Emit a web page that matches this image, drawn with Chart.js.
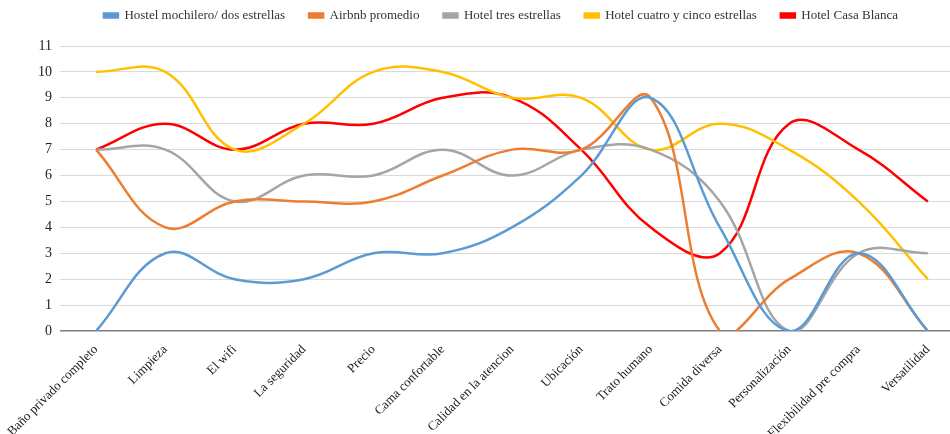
<!DOCTYPE html>
<html>
<head>
<meta charset="utf-8">
<script src="https://cdn.jsdelivr.net/npm/chart.js@4/dist/chart.umd.min.js"></script>
<style>
  html, body { margin: 0; padding: 0; background: #fff; }
  #wrap { width: 950px; height: 434px; }
</style>
</head>
<body>
<div id="wrap"><canvas id="myChart" width="950" height="434"></canvas></div>
<script>
// categorias del eje x
var categorias = ['Baño privado completo', 'Limpieza', 'El wifi', 'La seguridad', 'Precio',
    'Cama confortable', 'Calidad en la atencion', 'Ubicación', 'Trato humano',
    'Comida diversa', 'Personalización', 'Flexibilidad pre compra', 'Versatilidad']

var hostel = [0, 3, 2, 2, 3, 3, 4, 6, 9, 4, 0, 3, 0]
var airbnb = [7, 4, 5, 5, 5, 6, 7, 7, 9, 0, 2, 3, 0]
var hotelTres = [7, 7, 5, 6, 6, 7, 6, 7, 7, 5, 0, 3, 3]
var hotelCuatro = [10, 10, 7, 8, 10, 10, 9, 9, 7, 8, 7, 5, 2]
var casaBlanca = [7, 8, 7, 8, 8, 9, 9, 7, 4, 3, 8, 7, 5]

var yTicks = [0, 1, 2, 3, 4, 5, 6, 7, 8, 9, 10, 11]

function puntos(arr) {
    return arr.map(function (v, i) { return { x: i, y: v } })
}

function serie(label, arr, color) {
    return {
        label: label,
        data: puntos(arr),
        borderColor: color,
        backgroundColor: color,
        borderWidth: 2.5,
        pointRadius: 0,
        tension: 0.4,
        fill: false,
    }
}

// mueve la leyenda como en el original (mas arriba y centrada sobre el grafico)
var ajusteLeyenda = {
    id: 'ajusteLeyenda',
    beforeLayout: function (chart) {
        var lg = chart.legend
        if (lg && !lg._ajustado) {
            var fit = lg.fit
            lg.fit = function () { fit.call(this); this.height = 46 }
            lg._ajustado = true
        }
    },
    afterLayout: function (chart) {
        var lg = chart.legend
        lg.left = 52
        lg.right = 950
        lg.top = -15
    }
}

var ctx = document.getElementById('myChart').getContext('2d')
var myChart = new Chart(ctx, {
    type: 'line',
    data: {
        datasets: [
            serie('Hostel mochilero/ dos estrellas', hostel, '#5b9bd5'),
            serie('Airbnb promedio', airbnb, '#ed7d31'),
            serie('Hotel tres estrellas', hotelTres, '#a5a5a5'),
            serie('Hotel cuatro y cinco estrellas', hotelCuatro, '#ffc000'),
            serie('Hotel Casa Blanca', casaBlanca, '#ff0000'),
        ]
    },
    plugins: [ajusteLeyenda],
    options: {
        responsive: false,
        animation: false,
        layout: { padding: 0 },
        elements: { line: { capBezierPoints: false } },
        plugins: {
            legend: {
                position: 'top',
                labels: {
                    boxWidth: 14,
                    boxHeight: 4,
                    padding: 24,
                    color: '#333',
                    font: { family: 'Liberation Serif', size: 13 }
                }
            },
            tooltip: { enabled: false }
        },
        scales: {
            x: {
                type: 'linear',
                min: -0.52,
                max: 12.32,
                afterBuildTicks: function (scale) {
                    scale.ticks = categorias.map(function (c, i) { return { value: i } })
                },
                afterFit: function (scale) { scale.height = 103 },
                grid: { display: false },
                border: { display: false },
                ticks: {
                    autoSkip: false,
                    maxRotation: 45,
                    minRotation: 45,
                    padding: 3,
                    color: '#222',
                    font: { family: 'Liberation Serif', size: 13 },
                    callback: function (v) { return categorias[v] }
                }
            },
            y: {
                min: 0,
                max: 11,
                afterBuildTicks: function (scale) {
                    scale.ticks = yTicks.map(function (v) { return { value: v } })
                },
                afterFit: function (scale) { scale.width = 60 },
                border: { display: false },
                grid: {
                    drawTicks: false,
                    lineWidth: function (c) { return c.tick && c.tick.value === 0 ? 1.5 : 1 },
                    color: function (c) { return c.tick && c.tick.value === 0 ? '#7f7f7f' : '#d9d9d9' }
                },
                ticks: {
                    padding: 8,
                    color: '#222',
                    font: { family: 'Liberation Serif', size: 14 }
                }
            }
        }
    }
})
</script>
</body>
</html>
